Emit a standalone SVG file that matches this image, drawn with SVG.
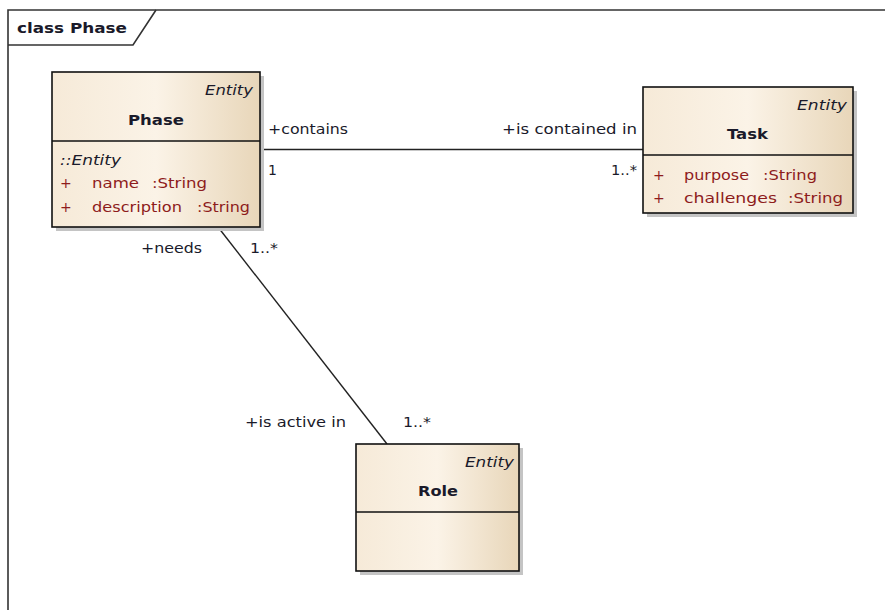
<svg xmlns="http://www.w3.org/2000/svg" width="885" height="610" viewBox="0 0 885 610">
<style>
text{font-family:"DejaVu Sans","Liberation Sans",sans-serif;font-size:14px;fill:#1a1a2a}
.b{font-weight:bold}
.i{font-style:italic}
.a{fill:#8e1c1c}
.box{fill:url(#g);stroke:#111;stroke-width:1.6}
.sh{fill:#c4c4c4}
.div{stroke:#111;stroke-width:1.6}
.conn{stroke:#222;stroke-width:1.4;fill:none}
</style>
<defs>
<linearGradient id="g" x1="0" y1="0" x2="1" y2="0">
<stop offset="0" stop-color="#f6ead8"/>
<stop offset="0.5" stop-color="#fbf3e7"/>
<stop offset="1" stop-color="#e8d6b9"/>
</linearGradient>
</defs>
<rect width="885" height="610" fill="#fff"/>
<g id="frame">
<path d="M8,610 V10 H885" fill="none" stroke="#333" stroke-width="1.6"/>
<path d="M8,45 H133 L156,10" fill="none" stroke="#333" stroke-width="1.6"/>
<text x="17" y="33" class="b" textLength="110" lengthAdjust="spacingAndGlyphs">class Phase</text>
</g>
<g id="connectors">
<line class="conn" x1="260" y1="149.5" x2="643" y2="149.5"/>
<line class="conn" x1="218" y1="227" x2="387" y2="444"/>
<text x="268" y="134" textLength="80" lengthAdjust="spacingAndGlyphs">+contains</text>
<text x="268" y="175">1</text>
<text x="502" y="134" textLength="135" lengthAdjust="spacingAndGlyphs">+is contained in</text>
<text x="611" y="175" textLength="26" lengthAdjust="spacingAndGlyphs">1..*</text>
<text x="141" y="253" textLength="61" lengthAdjust="spacingAndGlyphs">+needs</text>
<text x="250" y="253" textLength="28" lengthAdjust="spacingAndGlyphs">1..*</text>
<text x="245" y="427" textLength="101" lengthAdjust="spacingAndGlyphs">+is active in</text>
<text x="403" y="427" textLength="28" lengthAdjust="spacingAndGlyphs">1..*</text>
</g>
<g id="Phase">
<rect class="sh" x="56" y="76" width="208" height="155"/>
<rect class="box" x="52" y="72" width="208" height="155"/>
<line class="div" x1="52" y1="141" x2="260" y2="141"/>
<text x="205" y="95" class="i" textLength="48" lengthAdjust="spacingAndGlyphs">Entity</text>
<text x="128" y="125" class="b" textLength="56" lengthAdjust="spacingAndGlyphs">Phase</text>
<text x="60" y="165" class="i" textLength="61" lengthAdjust="spacingAndGlyphs">::Entity</text>
<text x="60" y="188" class="a">+</text>
<text x="92" y="188" class="a" textLength="47" lengthAdjust="spacingAndGlyphs">name</text>
<text x="152" y="188" class="a" textLength="55" lengthAdjust="spacingAndGlyphs">:String</text>
<text x="60" y="212" class="a">+</text>
<text x="92" y="212" class="a" textLength="90" lengthAdjust="spacingAndGlyphs">description</text>
<text x="197" y="212" class="a" textLength="53" lengthAdjust="spacingAndGlyphs">:String</text>
</g>
<g id="Task">
<rect class="sh" x="647" y="91" width="210" height="126"/>
<rect class="box" x="643" y="87" width="210" height="126"/>
<line class="div" x1="643" y1="155" x2="853" y2="155"/>
<text x="797" y="110" class="i" textLength="50" lengthAdjust="spacingAndGlyphs">Entity</text>
<text x="727" y="139" class="b" textLength="41" lengthAdjust="spacingAndGlyphs">Task</text>
<text x="653" y="180" class="a">+</text>
<text x="684" y="180" class="a" textLength="65" lengthAdjust="spacingAndGlyphs">purpose</text>
<text x="763" y="180" class="a" textLength="54" lengthAdjust="spacingAndGlyphs">:String</text>
<text x="653" y="203" class="a">+</text>
<text x="684" y="203" class="a" textLength="93" lengthAdjust="spacingAndGlyphs">challenges</text>
<text x="788" y="203" class="a" textLength="55" lengthAdjust="spacingAndGlyphs">:String</text>
</g>
<g id="Role">
<rect class="sh" x="360" y="448" width="163" height="127"/>
<rect class="box" x="356" y="444" width="163" height="127"/>
<line class="div" x1="356" y1="512" x2="519" y2="512"/>
<text x="465" y="467" class="i" textLength="49" lengthAdjust="spacingAndGlyphs">Entity</text>
<text x="418" y="496" class="b" textLength="40" lengthAdjust="spacingAndGlyphs">Role</text>
</g>
</svg>
